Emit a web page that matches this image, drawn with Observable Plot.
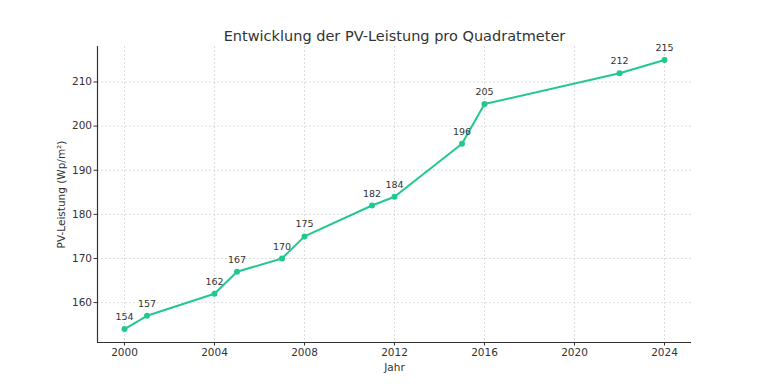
<!DOCTYPE html>
<html>
<head>
<meta charset="utf-8">
<script src="https://cdn.jsdelivr.net/npm/d3@7"></script>
<script src="https://cdn.jsdelivr.net/npm/@observablehq/plot@0.6"></script>
<style>
  html, body { margin: 0; padding: 0; background: #fff; }
  #chart svg { display: block; }
</style>
</head>
<body>
<div id="chart"></div>
<script>
const years = [2000, 2001, 2004, 2005, 2007, 2008, 2011, 2012, 2015, 2016, 2022, 2024];
const values = [154, 157, 162, 167, 170, 175, 182, 184, 196, 205, 212, 215];
const xTicks = [2000, 2004, 2008, 2012, 2016, 2020, 2024];
const yTicks = [160, 170, 180, 190, 200, 210];
const title = "Entwicklung der PV-Leistung pro Quadratmeter";
const xLabel = "Jahr";
const yLabel = "PV-Leistung (Wp/m²)";

const data = years.map((y, i) => ({year: y, value: values[i]}));
const xDomain = [1998.8, 2025.2];
const yDomain = [150.95, 218.05];
const color = "#22c98c";
const textColor = "#333333";

const chart = Plot.plot({
  width: 768,
  height: 384,
  marginTop: 46,
  marginBottom: 42,
  marginLeft: 97,
  marginRight: 77,
  style: {fontFamily: "DejaVu Sans, sans-serif", fontSize: "11px", color: textColor, background: "#fff"},
  x: {domain: xDomain, ticks: xTicks, tickFormat: d => String(d)},
  y: {domain: yDomain, ticks: yTicks},
  marks: [
    Plot.gridX(xTicks, {stroke: "#cfcfcf", strokeOpacity: 1, strokeWidth: 0.7, strokeDasharray: "2,2"}),
    Plot.gridY(yTicks, {stroke: "#cfcfcf", strokeOpacity: 1, strokeWidth: 0.7, strokeDasharray: "2,2"}),
    Plot.ruleY([yDomain[0]], {stroke: "#333", strokeWidth: 1.2}),
    Plot.ruleX([xDomain[0]], {stroke: "#333", strokeWidth: 1.2}),
    Plot.axisX(xTicks, {tickSize: 3.5, tickPadding: 3, stroke: "#333", fill: textColor, fontSize: 10.5, tickFormat: d => String(d), label: null}),
    Plot.axisY(yTicks, {tickSize: 3.5, tickPadding: 2, stroke: "#333", fill: textColor, fontSize: 10.5, label: null}),
    Plot.line(data, {x: "year", y: "value", stroke: color, strokeWidth: 2}),
    Plot.dot(data, {x: "year", y: "value", fill: color, r: 3}),
    Plot.text(data, {x: "year", y: "value", text: d => String(d.value), dy: -12, fill: textColor, fontSize: 9.5}),
    Plot.text([title], {frameAnchor: "top", dy: -16, fontSize: 14.5, fill: textColor}),
    Plot.text([xLabel], {frameAnchor: "bottom", dy: 28, fontSize: 10.5, fill: textColor}),
    Plot.text([yLabel], {frameAnchor: "left", textAnchor: "middle", dx: -36, rotate: -90, fontSize: 10.5, fill: textColor})
  ]
});
document.getElementById("chart").appendChild(chart);
</script>
</body>
</html>
